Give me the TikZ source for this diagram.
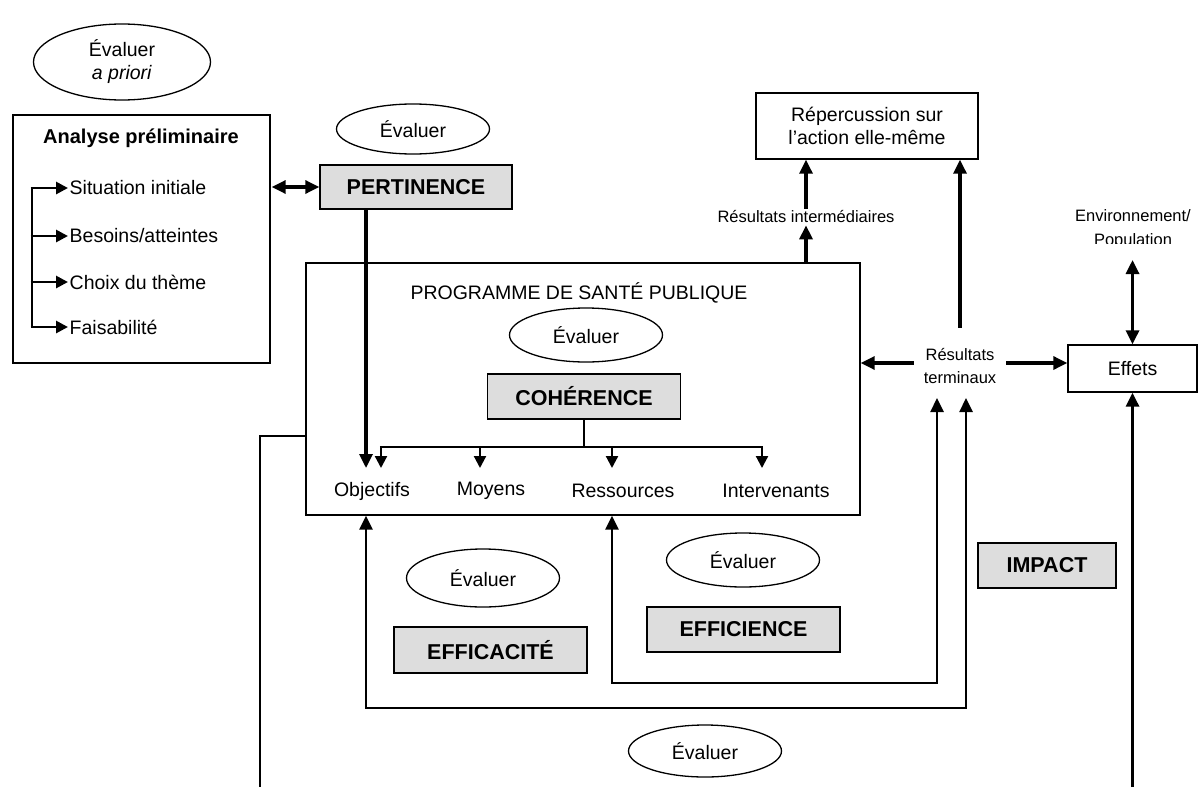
\documentclass[tikz,border=0pt]{standalone}
\usepackage{fontspec}
\setmainfont{Liberation Sans}
\usetikzlibrary{arrows.meta,positioning,calc,shapes.geometric}
\definecolor{shade}{HTML}{DDDDDD}

\begin{document}
\begin{tikzpicture}[
  x=1pt, y=-1pt,
  font=\fontsize{19.5}{23}\selectfont,
  plain/.style={draw, line width=1.4pt, inner sep=0pt, align=center},
  crit/.style={draw, line width=1.4pt, fill=shade, inner sep=0pt, minimum height=45pt, font=\fontsize{21.5}{24}\selectfont\bfseries},
  eval/.style={draw, ellipse, line width=1.3pt, inner sep=0pt, minimum width=153pt, minimum height=54pt, align=center},
  lbl/.style={inner sep=2pt, align=center, font=\fontsize{16.5}{23.5}\selectfont},
  link/.style={line width=1.4pt},
  bus/.style={line width=2.2pt},
  arrow/.style={-{Triangle[length=14pt,width=13pt]}, line width=3.2pt},
  both/.style={{Triangle[length=14pt,width=13pt]}-{Triangle[length=14pt,width=13pt]}, line width=3.2pt},
  loopline/.style={both, line width=2.5pt},
  busarrow/.style={-{Triangle[length=12pt,width=12pt]}, line width=2.2pt}
]
  \useasboundingbox (0,0) rectangle (1198,787);

  \node[eval, minimum width=177pt, minimum height=76pt] (apriori) at (122,62) {Évaluer\\\textit{a priori}};
  \node[plain, minimum width=257pt, minimum height=248pt] (analyse) at (141.5,239) {};
  \node[font=\fontsize{20}{24}\selectfont\bfseries] (atitle) at (141,138) {Analyse préliminaire};
  \node[anchor=west, inner sep=1.5pt] (sit) at (68,188) {Situation initiale};
  \node[anchor=west, inner sep=1.5pt] (bes) at (68,236) {Besoins/atteintes};
  \node[anchor=west, inner sep=1.5pt] (cho) at (68,282) {Choix du thème};
  \node[anchor=west, inner sep=1.5pt] (fai) at (68,327) {Faisabilité};
  \coordinate (rail) at (32,0);
  \draw[line width=2.8pt] (sit.west -| rail) -- (fai.west -| rail);
  \foreach \n in {sit,bes,cho,fai}
    \draw[busarrow, line width=2.8pt] ([xshift=-1.4pt]\n.west -| rail) -- (\n.west);

  \node[eval, minimum height=50pt] (evalp) at (413,129) {Évaluer};
  \node[crit, minimum width=192pt, minimum height=44pt] (pert) at (416,187) {PERTINENCE};
  \draw[both] ([xshift=1pt]analyse.east |- pert) -- (pert.west);

  \node[plain, minimum width=554pt, minimum height=252pt] (prog) at (583,389) {};
  \node (ptitle) at (579,293) {PROGRAMME DE SANTÉ PUBLIQUE};
  \node[eval] (evalc) at (586,335) {Évaluer};
  \node[crit, minimum width=193pt] (coh) at (584,396.5) {COHÉRENCE};

  \node (obj) at (372,491) {Objectifs};
  \node (moy) at (491,491) {Moyens};
  \node (res) at (623,491) {Ressources};
  \node (int) at (776,491) {Intervenants};
  \coordinate (t1) at (366,468);
  \coordinate (t2) at (381,468);
  \coordinate (t3) at (480,468);
  \coordinate (t4) at (612,468);
  \coordinate (t5) at (762,468);
  \coordinate (fork) at (0,447);
  \draw[bus] (coh.south) -- (coh.south |- fork);
  \draw[bus] ([xshift=-1.1pt]t2 |- fork) -- ([xshift=1.1pt]t5 |- fork);
  \foreach \t in {t2,t3,t4,t5}
    \draw[busarrow] (\t |- fork) -- (\t);
  \draw[arrow] (pert.south -| t1) -- (t1);

  \coordinate (lf) at (260,436);
  \draw[link] (lf -| prog.west) -- (lf) -- (lf |- 0,787);

  \node[plain, minimum width=222pt, minimum height=66pt] (rep) at (867,126) {Répercussion sur\\l’action elle-même};
  \node[lbl] (inter) at (806,217) {Résultats intermédiaires};
  \draw[arrow] (prog.north -| inter) -- (inter.south);
  \draw[arrow] (inter.north) -- (rep.south -| inter);

  \node[lbl] (term) at (960,366) {Résultats\\terminaux};
  \node[plain, minimum width=129pt, minimum height=47pt] (eff) at (1132.5,368.5) {Effets};
  \draw[arrow] ([yshift=18pt]term.north) -- (rep.south -| term);
  \draw[arrow] ([xshift=-8pt,yshift=3pt]term.west) -- (prog.east |- 0,363);
  \draw[arrow] ([xshift=8pt,yshift=3pt]term.east) -- (eff.west |- 0,363);

  \begin{scope}
    \clip (1040,180) rectangle (1198,243);
    \node[lbl] (env) at (1133,229) {Environnement/\\Population};
  \end{scope}
  \draw[both] (eff.north |- 0,260) -- (eff.north);
  \draw[arrow] (eff.south |- 0,787) -- (eff.south);

  \coordinate (outer) at (966,708);
  \coordinate (inner) at (937,683);
  \draw[loopline] (prog.south -| t1) -- (t1 |- outer) -- (outer) -- (outer |- 0,398);
  \draw[loopline] (prog.south -| t4) -- (t4 |- inner) -- (inner) -- (inner |- 0,398);

  \node[eval, minimum height=58pt] (evala) at (483,578) {Évaluer};
  \node[crit, minimum width=193pt, minimum height=46pt] (effic) at (490.5,650) {EFFICACITÉ};
  \node[eval] (evalb) at (743,560) {Évaluer};
  \node[crit, minimum width=193pt] (effie) at (743.5,629.5) {EFFICIENCE};
  \node[crit, minimum width=138pt] (imp) at (1047,565.5) {IMPACT};
  \node[eval, minimum height=52pt] (evald) at (705,751) {Évaluer};
\end{tikzpicture}
\end{document}
